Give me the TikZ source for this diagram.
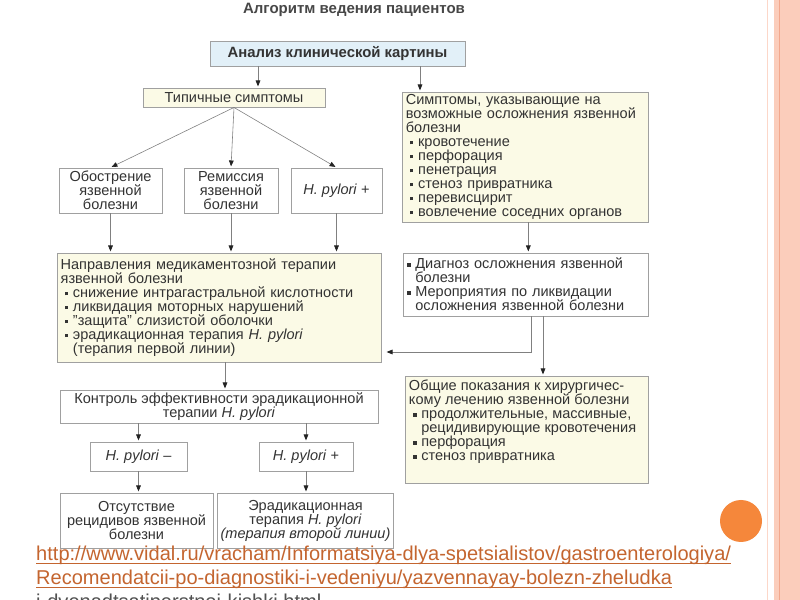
\documentclass[tikz,border=0pt]{standalone}
\usepackage{fontspec}
\setmainfont{Liberation Sans}
\usepackage{xcolor}
\usetikzlibrary{positioning,arrows.meta}

\definecolor{txt}{HTML}{333333}
\definecolor{boxline}{HTML}{A0A0A0}
\definecolor{boxyellow}{HTML}{FBFAE6}
\definecolor{boxblue}{HTML}{E2F0F8}
\definecolor{linegray}{HTML}{808080}
\definecolor{tipdark}{HTML}{222222}
\definecolor{urlorange}{HTML}{C4652F}
\definecolor{pinkband}{HTML}{FBCDBB}
\definecolor{pinkline}{HTML}{F2A88D}
\definecolor{dotorange}{HTML}{F5873B}

% bullets
\newcommand{\sq}{\rule[0.15em]{3pt}{3pt}\hspace{4pt}}
\newcommand{\bul}{\hspace*{3.5pt}\sq}
\newcommand{\nobul}{\hspace*{10.5pt}}
\newcommand{\nosq}{\hspace*{7pt}}

\tikzset{
  box/.style={draw=boxline, line width=0.8pt, fill=white, inner xsep=3pt, inner ysep=2pt,
    text=txt, font=\fontsize{12.4}{11.9}\selectfont},
  ybox/.style={box, fill=boxyellow},
  lbox/.style={align=left, anchor=center},
  arr/.style={draw=linegray, line width=0.5pt, -{Triangle[length=5pt,width=4pt,color=tipdark]}, shorten >=1pt},
  urltext/.style={text=urlorange, font=\fontsize{17.1}{18}\selectfont, inner sep=0pt, anchor=base west},
  urlline/.style={draw=urlorange, line width=0.6pt}
}

\begin{document}
\begin{tikzpicture}[x=0.03cm, y=-0.03cm]
    \useasboundingbox (0,0) rectangle (800,600);
    \fill[white] (0,0) rectangle (800,600);

    % right border of the slide
    \fill[pinkband] (774,0) rectangle (800,600);
    \draw[pinkband!80, line width=1.5pt] (767.5,0) -- (767.5,600);
    \draw[pinkline, line width=1.2pt] (779.5,0) -- (779.5,600);
    \fill[dotorange] (741,521) circle (21);

    \node[text=txt!90, font=\bfseries\fontsize{12.8}{14}\selectfont] (title) at (354,10) {Алгоритм ведения пациентов};

    \node[box, fill=boxblue, minimum width=7.65cm, minimum height=0.75cm, font=\bfseries\fontsize{12.7}{14}\selectfont] (anal) at (337.5,53.5) {Анализ клинической картины};

    \node[ybox, minimum width=5.46cm, minimum height=0.57cm] (typ) at (234,97.5) {Типичные симптомы};

    \node[ybox, lbox, minimum width=7.38cm, minimum height=3.9cm, text width=7.15cm] (sympt) at (525,157) {%
      Симптомы, указывающие на\\
      возможные осложнения язвенной\\
      болезни\\
      \bul кровотечение\\
      \bul перфорация\\
      \bul пенетрация\\
      \bul стеноз привратника\\
      \bul перевисцирит\\
      \bul вовлечение соседних органов};

    \node[box, align=center, minimum width=3.09cm, minimum height=1.35cm] (obostr) at (110.5,190.5) {Обострение\\язвенной\\болезни};
    \node[box, align=center, minimum width=2.82cm, minimum height=1.35cm] (remis) at (231,190.5) {Ремиссия\\язвенной\\болезни};
    \node[box, align=center, minimum width=2.73cm, minimum height=1.35cm] (hp1) at (336.5,190.5) {\textit{H. pylori} +};

    \node[ybox, lbox, minimum width=9.72cm, minimum height=3.27cm, text width=9.5cm] (naprav) at (219,307.5) {%
      Направления медикаментозной терапии\\
      язвенной болезни\\
      \bul снижение интрагастральной кислотности\\
      \bul ликвидация моторных нарушений\\
      \bul "защита" слизистой оболочки\\
      \bul эрадикационная терапия \textit{H. pylori}\\
      \nobul(терапия первой линии)};

    \node[box, lbox, minimum width=7.35cm, minimum height=1.89cm, text width=7.1cm] (diag) at (525.5,284.5) {%
      \sq Диагноз осложнения язвенной\\
      \nosq болезни\\
      \sq Мероприятия по ликвидации\\
      \nosq осложнения язвенной болезни};

    \node[ybox, minimum width=7.29cm, minimum height=3.21cm] (obsh) at (526.5,429.5) {%
      \parbox[c][2.95cm][t]{7.05cm}{%
      Общие показания к хирургичес-\\
      кому лечению язвенной болезни\\
      \bul продолжительные, массивные,\\
      \nobul рецидивирующие кровотечения\\
      \bul перфорация\\
      \bul стеноз привратника}};

    \node[box, align=center, minimum width=9.54cm, minimum height=0.99cm] (kontr) at (219,406.5) {Контроль эффективности эрадикационной\\терапии \textit{H. pylori}};

    \node[box, minimum width=2.91cm, minimum height=0.87cm] (hpm) at (138.5,456.5) {\textit{H. pylori} --};
    \node[box, minimum width=2.82cm, minimum height=0.87cm] (hpp) at (306,456.5) {\textit{H. pylori} +};

    \node[box, align=center, minimum width=4.59cm, minimum height=1.65cm] (otsut) at (136.5,520.5) {Отсутствие\\рецидивов язвенной\\болезни};
    \node[box, align=center, minimum width=5.07cm, minimum height=1.65cm] (erad2) at (305.5,520.5) {Эрадикационная\\терапия \textit{H. pylori}\\\textit{(терапия второй линии)}};

    % connectors
    \draw[arr] ([xshift=0.72cm]typ.north |- anal.south) -- ([xshift=0.72cm]typ.north);
    \draw[arr] ([xshift=-3.15cm]sympt.north |- anal.south) -- ([xshift=-3.15cm]sympt.north);
    \draw[arr] (typ.south) -- (obostr.north);
    \draw[arr] (typ.south) -- (remis.north);
    \draw[arr] (typ.south) -- (hp1.north);
    \draw[arr] (obostr.south) -- (obostr.south |- naprav.north);
    \draw[arr] (remis.south) -- (remis.south |- naprav.north);
    \draw[arr] (hp1.south) -- (hp1.south |- naprav.north);
    \draw[arr] ([xshift=0.1cm]sympt.south) -- ([xshift=0.1cm]sympt.south |- diag.north);
    \draw[arr] ([xshift=0.165cm]diag.south) |- ([xshift=0.12cm,yshift=-1.335cm]naprav.east);
    \draw[arr] ([xshift=0.525cm]diag.south) -- ([xshift=0.525cm]diag.south |- obsh.north);
    \draw[arr] ([xshift=0.18cm]naprav.south) -- ([xshift=0.18cm]naprav.south |- kontr.north);
    \draw[arr] (hpm.north |- kontr.south) -- (hpm.north);
    \draw[arr] (hpp.north |- kontr.south) -- (hpp.north);
    \draw[arr] (hpm.south) -- (hpm.south |- otsut.north);
    \draw[arr] (hpp.south) -- (hpp.south |- erad2.north);

    % source link
    \node[urltext] (url1) at (36,561) {http://www.vidal.ru/vracham/Informatsiya-dlya-spetsialistov/gastroenterologiya/};
    \node[urltext] (url2) at (36,585) {Recomendatcii-po-diagnostiki-i-vedeniyu/yazvennayay-bolezn-zheludka};
    \node[urltext, text=txt!85] (url3) at (36,609) {i-dvenadtsatiperstnoi-kishki.html};
    \draw[urlline] ([yshift=-2pt]url1.base west) -- ([yshift=-2pt]url1.base east);
    \draw[urlline] ([yshift=-2pt]url2.base west) -- ([yshift=-2pt]url2.base east);
\end{tikzpicture}
\end{document}
